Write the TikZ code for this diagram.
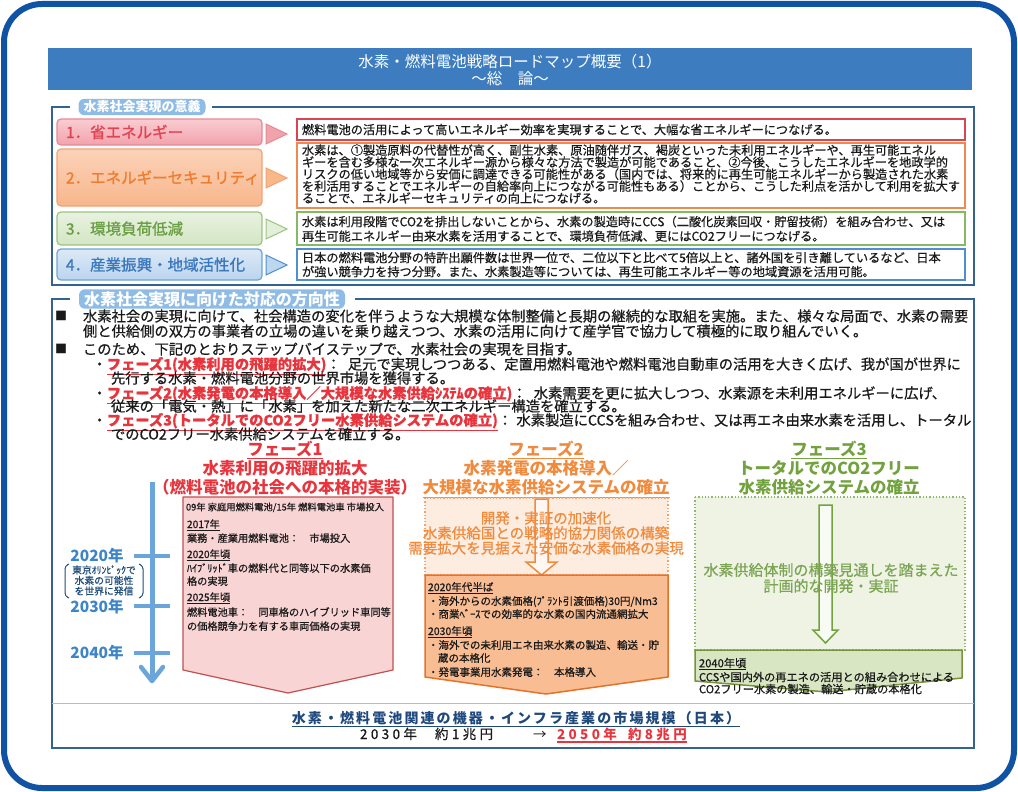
\documentclass[tikz,border=0pt]{standalone}
\usepackage{fontspec}
\setmainfont{Noto Sans CJK JP}
\usetikzlibrary{calc}
\newcommand\fsz[1]{\fontsize{#1}{#1}\selectfont}
\newcommand\fb{\addfontfeatures{FakeBold=0.6}}
\newcommand\redul[1]{\textcolor{bred}{\bfseries\underline{#1}}}
\definecolor{framec}{HTML}{1052A3}
\definecolor{titlec}{HTML}{3D7DBF}
\definecolor{secc}{HTML}{35628F}
\definecolor{labc}{HTML}{8FBCE6}
\definecolor{r1x}{HTML}{E04351}\definecolor{r1t}{HTML}{F9CDD2}\definecolor{r1f}{HTML}{F2A2AC}\definecolor{r1b}{HTML}{E78A93}\definecolor{r1d}{HTML}{D94452}\definecolor{r1tri}{HTML}{F1A3AB}
\definecolor{r2x}{HTML}{EF7C2F}\definecolor{r2t}{HTML}{FBD3B8}\definecolor{r2f}{HTML}{F8B68C}\definecolor{r2b}{HTML}{F3A274}\definecolor{r2d}{HTML}{EF8B4A}\definecolor{r2tri}{HTML}{F8B888}
\definecolor{r3x}{HTML}{6B9F45}\definecolor{r3t}{HTML}{E9F2E1}\definecolor{r3f}{HTML}{D3E6C4}\definecolor{r3b}{HTML}{9CC47F}\definecolor{r3d}{HTML}{86B866}\definecolor{r3tri}{HTML}{E3EFD8}
\definecolor{r4x}{HTML}{3B78BD}\definecolor{r4t}{HTML}{DCE9F6}\definecolor{r4f}{HTML}{BBD5EE}\definecolor{r4b}{HTML}{6FA3D6}\definecolor{r4d}{HTML}{4F8FCF}\definecolor{r4tri}{HTML}{BDD7EE}
\definecolor{bred}{HTML}{E8353D}
\definecolor{p1fill}{HTML}{F9D4D4}\definecolor{p1line}{HTML}{C0504D}
\definecolor{p2or}{HTML}{F08A3C}\definecolor{p2dfill}{HTML}{FDECE0}\definecolor{p2dline}{HTML}{F4A46A}\definecolor{p2fill}{HTML}{F9BD94}\definecolor{p2line}{HTML}{E8712A}
\definecolor{p3gr}{HTML}{72A23E}\definecolor{p3dfill}{HTML}{EEF3E4}\definecolor{p3dline}{HTML}{92B86A}\definecolor{p3fill}{HTML}{D9E6C3}\definecolor{p3line}{HTML}{77933C}\definecolor{p3txt}{HTML}{7BA453}
\definecolor{tlc}{HTML}{6AA6DB}\definecolor{tlx}{HTML}{3D85C6}\definecolor{navy}{HTML}{1F4E79}
\definecolor{sepc}{HTML}{9DC3E6}\definecolor{mkc}{HTML}{1F497D}
\definecolor{txt}{HTML}{1A1A1A}
\begin{document}
\begin{tikzpicture}[x=1pt,y=-1pt,
  t/.style={inner sep=0pt, outer sep=0pt, text=txt},
  bw/.style={t, anchor=base west},
  bc/.style={t, anchor=base},
  rowtxt/.style={bw, font=\fsz{12.2}\fb},
  rowlab/.style={bw, font=\fsz{15.5}\addfontfeatures{FakeBold=1.2}},
  bul/.style={bw, font=\fsz{14.3}\fb},
  lab/.style={inner sep=0pt, outer sep=0pt, fill=labc, text=white, rounded corners=6pt, inner xsep=5pt, inner ysep=2pt},
  p1t/.style={bw, font=\fsz{10.2}\fb},
  p2t/.style={bw, font=\fsz{10.5}\fb},
  p3t/.style={bw, font=\fsz{11.2}\fb},
  phh/.style={bc, font=\fsz{16.5}\bfseries},
  yr/.style={bc, font=\fsz{15.5}\bfseries, text=tlx},
  note/.style={bc, font=\fsz{9.8}\fb, text=navy}]
\useasboundingbox (0,0) rectangle (1018,792);
\fill[white] (0,0) rectangle (1018,792);
\draw[line width=6pt, framec, rounded corners=38pt] (4,4) rectangle (1014,788);

% title
\fill[titlec] (48,48) rectangle (972,90);
\node[bc, font=\fsz{15.5}, text=white] (title1) at (510,67.9) {水素・燃料電池戦略ロードマップ概要（1）};
\node[bc, font=\fsz{15.5}, text=white] (title2) at (510,84.9) {～総　論～};

% section 1
\draw[secc, line width=1.6pt] (70,107) -- (52,107) -- (52,285) -- (974,285) -- (974,107) -- (212,107);
\node[lab, font=\fsz{13}\bfseries] (s1lab) at (142,107) {水素社会実現の意義};

% row 1
\draw[r1b, line width=1.2pt, rounded corners=4pt, top color=r1t, bottom color=r1f] (57,119) rectangle (262,145);
\node[rowlab, text=r1x] (l1) at (66,138) {1．省エネルギー};
\filldraw[fill=r1tri, draw=r1b, line width=1pt] (266,124) -- (287,134) -- (266,144) -- cycle;
\draw[r1d, line width=1.3pt] (297,119) rectangle (965,140);
\node[rowtxt] (t1) at (302,134.25) {燃料電池の活用によって高いエネルギー効率を実現することで、大幅な省エネルギーにつなげる。};

% row 2
\draw[r2b, line width=1.2pt, rounded corners=4pt, top color=r2t, bottom color=r2f] (57,149) rectangle (262,206);
\node[rowlab, text=r2x] (l2) at (66,183.5) {2．エネルギーセキュリティ};
\filldraw[fill=r2tri, draw=r2b, line width=1pt] (266,168) -- (287,178) -- (266,188) -- cycle;
\draw[r2d, line width=1.3pt] (297,143) rectangle (965,208);
\node[rowtxt] (t2a) at (302,154.75) {水素は、①製造原料の代替性が高く、副生水素、原油随伴ガス、褐炭といった未利用エネルギーや、再生可能エネル};
\node[rowtxt] (t2b) at (302,166.75) {ギーを含む多様な一次エネルギー源から様々な方法で製造が可能であること、②今後、こうしたエネルギーを地政学的};
\node[rowtxt] (t2c) at (302,178.75) {リスクの低い地域等から安価に調達できる可能性がある（国内では、将来的に再生可能エネルギーから製造された水素};
\node[rowtxt] (t2d) at (302,190.75) {を利活用することでエネルギーの自給率向上につながる可能性もある）ことから、こうした利点を活かして利用を拡大す};
\node[rowtxt] (t2e) at (302,202.75) {ることで、エネルギーセキュリティの向上につなげる。};

% row 3
\draw[r3b, line width=1.2pt, rounded corners=4pt, top color=r3t, bottom color=r3f] (57,212) rectangle (262,245);
\node[rowlab, text=r3x] (l3) at (66,234.5) {3．環境負荷低減};
\filldraw[fill=r3tri, draw=r3b, line width=1pt] (266,219) -- (287,229) -- (266,239) -- cycle;
\draw[r3d, line width=1.3pt] (297,212) rectangle (965,245);
\node[rowtxt] (t3a) at (302,226.25) {水素は利用段階でCO2を排出しないことから、水素の製造時にCCS（二酸化炭素回収・貯留技術）を組み合わせ、又は};
\node[rowtxt] (t3b) at (302,240.75) {再生可能エネルギー由来水素を活用することで、環境負荷低減、更にはCO2フリーにつなげる。};

% row 4
\draw[r4b, line width=1.2pt, rounded corners=4pt, top color=r4t, bottom color=r4f] (57,249) rectangle (262,280);
\node[rowlab, text=r4x] (l4) at (66,270.5) {4．産業振興・地域活性化};
\filldraw[fill=r4tri, draw=r4d, line width=1pt] (266,255) -- (287,265) -- (266,275) -- cycle;
\draw[r4d, line width=1.3pt] (297,249) rectangle (965,280);
\node[rowtxt] (t4a) at (302,262.25) {日本の燃料電池分野の特許出願件数は世界一位で、二位以下と比べて5倍以上と、諸外国を引き離しているなど、日本};
\node[rowtxt] (t4b) at (302,276.25) {が強い競争力を持つ分野。また、水素製造等については、再生可能エネルギー等の地域資源を活用可能。};

% section 2
\draw[secc, line width=1.6pt] (70,299) -- (52,299) -- (52,748) -- (974,748) -- (974,299) -- (355,299);
\node[lab, font=\fsz{16}\bfseries] (s2lab) at (212,299) {水素社会実現に向けた対応の方向性};

\node[bw, font=\fsz{12}] (sq1) at (55,320.5) {■};
\node[bul] (b1) at (83,321.5) {水素社会の実現に向けて、社会構造の変化を伴うような大規模な体制整備と長期の継続的な取組を実施。また、様々な局面で、水素の需要};
\node[bul] (b2) at (83,336.5) {側と供給側の双方の事業者の立場の違いを乗り越えつつ、水素の活用に向けて産学官で協力して積極的に取り組んでいく。};
\node[bw, font=\fsz{12}] (sq2) at (55,353.5) {■};
\node[bul] (b3) at (83,354.5) {このため、下記のとおりステップバイステップで、水素社会の実現を目指す。};
\node[bul] (b4) at (92.5,369.5) {・\redul{フェーズ1(水素利用の飛躍的拡大)}：\hspace{0.5em}足元で実現しつつある、定置用燃料電池や燃料電池自動車の活用を大きく広げ、我が国が世界に};
\node[bul] (b5) at (111,383.5) {先行する水素・燃料電池分野の世界市場を獲得する。};
\node[bul] (b6) at (92.5,398.5) {・\redul{フェーズ2(水素発電の本格導入／大規模な水素供給ｼｽﾃﾑの確立)}：\hspace{0.5em}水素需要を更に拡大しつつ、水素源を未利用エネルギーに広げ、};
\node[bul] (b7) at (111,411.5) {従来の「電気・熱」に「水素」を加えた新たな二次エネルギー構造を確立する。};
\node[bul] (b8) at (92.5,425.5) {・\redul{フェーズ3(トータルでのCO2フリー水素供給システムの確立)}：\hspace{0.3em}水素製造にCCSを組み合わせ、又は再エネ由来水素を活用し、トータル};
\node[bul] (b9) at (111,439.5) {でのCO2フリー水素供給システムを確立する。};

% phase headers
\node[phh, text=bred] (h1a) at (285,455.3) {\underline{フェーズ1}};
\node[phh, text=bred] (h1b) at (285,474.8) {水素利用の飛躍的拡大};
\node[phh, text=bred] (h1c) at (285,493.8) {（燃料電池の社会への本格的実装）};
\node[phh, text=p2or] (h2a) at (546,455.3) {\underline{フェーズ2}};
\node[phh, text=p2or] (h2b) at (546,474.8) {水素発電の本格導入／};
\node[phh, text=p2or] (h2c) at (546,493.8) {\underline{大規模な水素供給システムの確立}};
\node[phh, text=p3gr] (h3a) at (829,455.3) {\underline{フェーズ3}};
\node[phh, text=p3gr] (h3b) at (829,474.8) {トータルでのCO2フリー};
\node[phh, text=p3gr] (h3c) at (829,493.8) {\underline{水素供給システムの確立}};

% timeline
\draw[tlc, line width=5pt] (152,482) -- (152,680);
\draw[tlc, line width=4.5pt, line cap=round, line join=round] (141,667) -- (152,681) -- (163,667);
\draw[tlc, line width=4.5pt] (134,556) -- (170,556);
\draw[tlc, line width=4.5pt] (134,606) -- (170,606);
\draw[tlc, line width=4.5pt] (134,653) -- (170,653);
\node[yr] (y2020) at (97,561.9) {2020年};
\node[yr] (y2030) at (97,612.9) {2030年};
\node[yr] (y2040) at (97,658.9) {2040年};
\node[note] (n1) at (104,573.7) {東京ｵﾘﾝﾋﾟｯｸで};
\node[note] (n2) at (104,584.2) {水素の可能性};
\node[note] (n3) at (104,594.7) {を世界に発信};
\draw[navy, line width=1pt, rounded corners=3pt] (69,564) -- (65,566) -- (65,596) -- (69,598);
\draw[navy, line width=1pt, rounded corners=3pt] (139,564) -- (143,566) -- (143,596) -- (139,598);

% phase 1 box
\draw[p1line, fill=p1fill, line width=1.2pt, line join=round] (183,497) -- (393,497) -- (393,670) -- (288,693) -- (183,670) -- cycle;
\node[bw, font=\fsz{9.3}\fb] (p1a) at (186,510.5) {09年 家庭用燃料電池/15年 燃料電池車 市場投入};
\node[p1t] (p1b) at (187,528) {\underline{2017年}};
\node[p1t] (p1c) at (187,542) {業務・産業用燃料電池：　市場投入};
\node[p1t] (p1d) at (187,558) {\underline{2020年頃}};
\node[p1t] (p1e) at (187,572) {ﾊｲﾌﾞﾘｯﾄﾞ車の燃料代と同等以下の水素価};
\node[p1t] (p1f) at (187,585) {格の実現};
\node[p1t] (p1g) at (187,601) {\underline{2025年頃}};
\node[p1t] (p1h) at (187,616) {燃料電池車：　同車格のハイブリッド車同等};
\node[p1t] (p1i) at (187,630) {の価格競争力を有する車両価格の実現};

% phase 2
\draw[p2dline, fill=p2dfill, line width=1.3pt, dotted] (425,498) rectangle (668,575);
\filldraw[fill=white!60!p2dfill, draw=p2or, line width=1.5pt, line join=miter] (535,499) -- (548,499) -- (548,562) -- (557,562) -- (541.5,575) -- (526,562) -- (535,562) -- cycle;
\node[bc, font=\fsz{14.5}\fb, text=p2or] (m2a) at (546,523.5) {開発・実証の加速化};
\node[bc, font=\fsz{14.5}\fb, text=p2or] (m2b) at (546,538.5) {水素供給国との戦略的協力関係の構築};
\node[bc, font=\fsz{14.5}\fb, text=p2or] (m2c) at (546,553.5) {需要拡大を見据えた安価な水素価格の実現};
\draw[p2line, fill=p2fill, line width=1.5pt, line join=round] (425,575) -- (668,575) -- (668,677) -- (546,694) -- (425,677) -- cycle;
\node[p2t] (p2a) at (428,591) {\underline{2020年代半ば}};
\node[p2t] (p2b) at (428,605) {・海外からの水素価格(ﾌﾟﾗﾝﾄ引渡価格)30円/Nm3};
\node[p2t] (p2c) at (428,618) {・商業ﾍﾞｰｽでの効率的な水素の国内流通網拡大};
\node[p2t] (p2d) at (428,635) {\underline{2030年頃}};
\node[p2t] (p2e) at (428,649) {・海外での未利用エネ由来水素の製造、輸送・貯};
\node[p2t] (p2f) at (438,662) {蔵の本格化};
\node[p2t] (p2g) at (428,676) {・発電事業用水素発電：　本格導入};

% phase 3
\draw[p3dline, fill=p3dfill, line width=1.3pt, dotted] (695,497) rectangle (965,650);
\filldraw[fill=white!60!p3dfill, draw=p3gr, line width=1.5pt, line join=miter] (819,505) -- (832,505) -- (832,630) -- (838,630) -- (825.5,643) -- (813,630) -- (819,630) -- cycle;
\node[bc, font=\fsz{15}\fb, text=p3txt] (m3a) at (831,575.7) {水素供給体制の構築見通しを踏まえた};
\node[bc, font=\fsz{15}\fb, text=p3txt] (m3b) at (831,591.7) {計画的な開発・実証};
\draw[p3line, fill=p3fill, line width=1.5pt, line join=round] (695,650) -- (962,650) -- (962,678) -- (827,692) -- (695,681) -- cycle;
\node[p3t] (p3a) at (699,667.3) {\underline{2040年頃}};
\node[p3t] (p3b) at (699,681.3) {CCSや国内外の再エネの活用との組み合わせによる};
\node[p3t] (p3c) at (699,693.3) {CO2フリー水素の製造、輸送・貯蔵の本格化};

% market
\draw[sepc, line width=1pt] (52,703) -- (974,703);
\node[bc, font=\fsz{14}\bfseries\addfontfeatures{LetterSpace=15}, text=mkc] (mk1) at (516,723.3) {\underline{水素・燃料電池関連の機器・インフラ産業の市場規模（日本）}};
\node[bw, font=\fsz{13.5}\fb\addfontfeatures{LetterSpace=25}] (mk2a) at (360,739) {2030年};
\node[bw, font=\fsz{13.5}\fb\addfontfeatures{LetterSpace=25}] (mk2b) at (435,739) {約1兆円};
\node[bw, font=\fsz{13.5}] (mk2c) at (533,739) {→};
\node[bw, font=\fsz{13.5}\bfseries\addfontfeatures{LetterSpace=25}, text=bred] (mk2d) at (557,739) {2050年};
\node[bw, font=\fsz{13.5}\bfseries\addfontfeatures{LetterSpace=25}, text=bred] (mk2e) at (628,739) {約8兆円};
\draw[bred, line width=1.3pt] ($(mk2d.base west)+(0,3)$) -- ($(mk2e.base east)+(0,3)$);
\end{tikzpicture}
\end{document}
